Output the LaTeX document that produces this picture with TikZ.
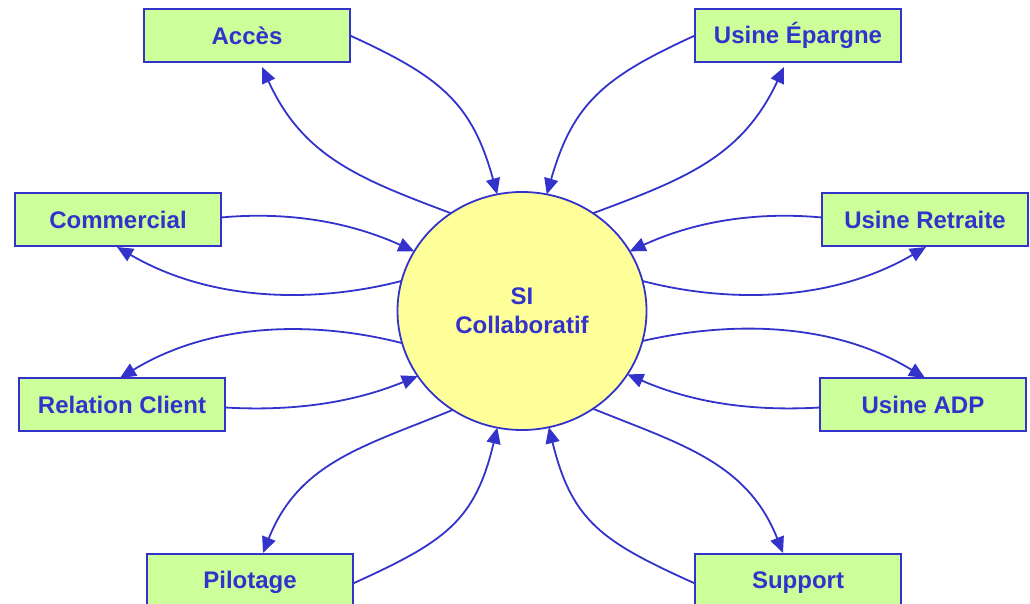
\documentclass[tikz,border=0pt]{standalone}
\usepackage{fontspec}
\setmainfont{Liberation Sans}
\usetikzlibrary{arrows.meta,shapes.geometric}
\definecolor{lineblue}{HTML}{3333CC}
\definecolor{boxgreen}{HTML}{CCFF99}
\definecolor{siyellow}{HTML}{FFFF99}
\tikzset{
  box/.style={draw=lineblue, line width=1.8pt, fill=boxgreen, minimum width=206pt, minimum height=53pt,
    inner sep=0pt, outer sep=0pt, text=lineblue, font=\bfseries\fontsize{24}{29}\selectfont},
  sinode/.style={ellipse, draw=lineblue, line width=1.8pt, fill=siyellow, minimum width=249pt, minimum height=238pt,
    inner sep=0pt, outer sep=0pt, text=lineblue, align=center, font=\bfseries\fontsize{24}{29}\selectfont},
  link/.style={draw=lineblue, line width=1.8pt, -{Triangle[length=16pt,width=14pt]}}
}
\begin{document}
\begin{tikzpicture}[x=1pt,y=-1pt]
\useasboundingbox (0,0) rectangle (1030,604);
\node[sinode] (si) at (522,311) {SI\\Collaboratif};
\node[box] (acc) at (247,35.5) {\raisebox{-1pt}{Accès}};
\node[box] (ep) at (798,35.5) {\raisebox{-1pt}{Usine Épargne}};
\node[box] (com) at (118,219.5) {\raisebox{-1pt}{Commercial}};
\node[box] (ret) at (925,219.5) {\raisebox{-1pt}{Usine Retraite}};
\node[box] (rc) at (122,404.5) {\raisebox{-1pt}{Relation Client}};
\node[box] (adp) at (923,404.5) {\raisebox{-1pt}{Usine ADP}};
\node[box, minimum height=57pt] (pil) at (250,582.5) {\raisebox{-1pt}{Pilotage}};
\node[box, minimum height=57pt] (sup) at (798,582.5) {\raisebox{-1pt}{Support}};
% top
\draw[link] (acc.east) .. controls (441,77) and (472,103) .. (si.102);
\draw[link] (si.126) .. controls (360,179) and (303,157) .. ([xshift=15pt,yshift=-5pt]acc.south);
\draw[link] (ep.west) .. controls (604,77) and (573,103) .. (si.78);
\draw[link] (si.54) .. controls (685,179) and (742,157) .. ([xshift=-14pt,yshift=-5pt]ep.south);
% upper sides
\draw[link] ([yshift=2pt]com.east) .. controls (280,212) and (343,219) .. (si.151);
\draw[link] (si.166) .. controls (320,302) and (215,304) .. ([xshift=-1pt,yshift=-1pt]com.south);
\draw[link] ([yshift=2pt]ret.west) .. controls (763,212) and (700,219) .. (si.29);
\draw[link] (si.14) .. controls (723,302) and (828,304) .. ([xshift=1pt,yshift=-1pt]ret.south);
% lower sides
\draw[link] (si.195) .. controls (320,322) and (215,320) .. ([xshift=-2pt]rc.north);
\draw[link] ([yshift=-3pt]rc.east) .. controls (286,411) and (347,405) .. (si.212);
\draw[link] (si.-14) .. controls (725,322) and (830,320) .. ([xshift=2pt]adp.north);
\draw[link] ([yshift=-3pt]adp.west) .. controls (759,411) and (698,405) .. (si.-31);
% bottom
\draw[link] (si.235) .. controls (365,446) and (299,462) .. ([xshift=13pt,yshift=1pt]pil.north);
\draw[link] ([yshift=-1pt]pil.east) .. controls (444,542) and (475,522) .. (si.258);
\draw[link] (si.-54) .. controls (680,444) and (747,462) .. ([xshift=-15pt,yshift=1pt]sup.north);
\draw[link] ([yshift=-1pt]sup.west) .. controls (603,542) and (572,522) .. (si.-77);
\end{tikzpicture}
\end{document}
